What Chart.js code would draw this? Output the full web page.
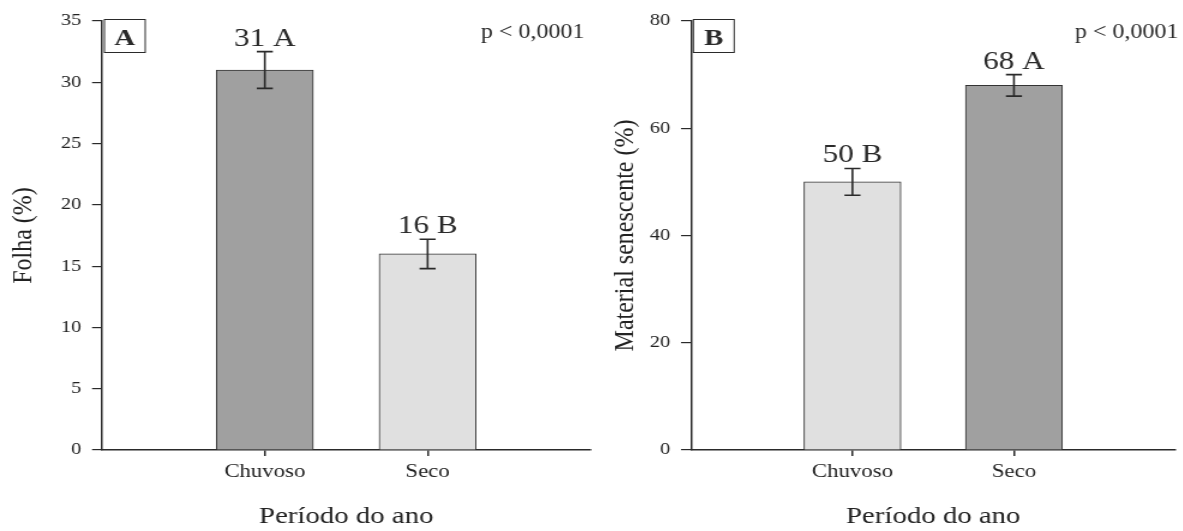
<!DOCTYPE html>
<html>
<head>
<meta charset="utf-8">
<script src="https://cdn.jsdelivr.net/npm/chart.js@4/dist/chart.umd.min.js"></script>
<style>
  body { margin: 0; background: #fff; overflow: hidden; }
  #wrap { position: relative; width: 1183px; height: 531px; }
  canvas { position: absolute; top: 0; transform: scaleX(1.2); transform-origin: 0 0; }
</style>
</head>
<body>
<div id="wrap">
  <canvas id="chart-a" width="493" height="531" style="left:0px"></canvas>
  <canvas id="chart-b" width="493" height="531" style="left:591px"></canvas>
</div>
<script>
// categories
const periods = ['Chuvoso', 'Seco']

// panel A - folha
const folha = [31, 16]
const folhaErr = [1.5, 1.2]
const folhaLetters = ['A', 'B']
const folhaColors = ['#a0a0a0', '#e0e0e0']

// panel B - material senescente
const senescente = [50, 68]
const senescenteErr = [2.5, 2.0]
const senescenteLetters = ['B', 'A']
const senescenteColors = ['#e0e0e0', '#a0a0a0']

const serif = "'Liberation Serif', 'Times New Roman', serif"
const ink = '#2a2a2a'

// error bars, value labels, panel letter and p value
const extrasPlugin = {
	id: 'extras',
	afterDatasetsDraw(chart, args, opts) {
		const ctx = chart.ctx
		const y = chart.scales.y
		const area = chart.chartArea
		const meta = chart.getDatasetMeta(0)
		ctx.save()
		ctx.strokeStyle = ink
		ctx.fillStyle = ink
		periods.forEach((p, i) => {
			const bar = meta.data[i + 1]
			const v = opts.values[i]
			const e = opts.errors[i]
			const top = y.getPixelForValue(v + e)
			const bottom = y.getPixelForValue(v - e)
			ctx.lineWidth = 1.6
			ctx.beginPath()
			ctx.moveTo(bar.x, top)
			ctx.lineTo(bar.x, bottom)
			ctx.moveTo(bar.x - 6.7, top)
			ctx.lineTo(bar.x + 6.7, top)
			ctx.moveTo(bar.x - 6.7, bottom)
			ctx.lineTo(bar.x + 6.7, bottom)
			ctx.stroke()
			ctx.font = '26px ' + serif
			ctx.textAlign = 'center'
			ctx.textBaseline = 'alphabetic'
			ctx.fillText(v + ' ' + opts.letters[i], bar.x, top - 6)
		})
		// panel letter in a box
		ctx.lineWidth = 1
		ctx.strokeRect(area.left + 2, area.top - 1.5, 34, 33)
		ctx.font = 'bold 24px ' + serif
		ctx.textAlign = 'center'
		ctx.fillText(opts.panel, area.left + 19, area.top + 24)
		// p value
		ctx.font = '20px ' + serif
		ctx.textAlign = 'right'
		ctx.fillText('p < 0,0001', area.right + opts.pShift, 38)
		ctx.restore()
	}
}

const makeChart = (id, values, errors, letters, colors, yMax, yStep, yTitle, panel, dims) => {
	const config = {
		type: 'bar',
		data: {
			labels: ['', ...periods, ''],
			datasets: [{
				data: [null, ...values, null],
				backgroundColor: ['#fff', ...colors, '#fff'],
				borderColor: '#333333',
				borderWidth: 1,
				borderSkipped: 'bottom',
				barThickness: 80.8
			}]
		},
		options: {
			responsive: false,
			animation: false,
			layout: { padding: { top: 21, right: dims.right, left: 0, bottom: 0 } },
			plugins: {
				legend: { display: false },
				tooltip: { enabled: false },
				extras: { values, errors, letters, panel, pShift: dims.pShift }
			},
			scales: {
				x: {
					offset: false,
					afterBuildTicks: (s) => { s.ticks = periods.map((p, i) => ({ value: i + 1 })) },
					afterFit: (s) => { s.height = 81 },
					grid: { offset: false, drawOnChartArea: false, tickLength: 6, color: ink, lineWidth: 1.5 },
					border: { display: true, color: ink, width: 1.5 },
					ticks: {
						color: '#222',
						font: { family: serif, size: 19 },
						padding: 5,
						maxRotation: 0,
						autoSkip: false
					},
					title: {
						display: true,
						text: 'Período do ano',
						color: '#222',
						font: { family: serif, size: 24 },
						padding: { top: 0, bottom: 0 }
					}
				},
				y: {
					min: 0,
					max: yMax,
					afterFit: (s) => { s.width = dims.axisX },
					grid: { drawOnChartArea: false, tickLength: 8.3, color: ink, lineWidth: 1.2 },
					border: { display: true, color: ink, width: 1.5 },
					ticks: {
						stepSize: yStep,
						color: '#222',
						font: { family: serif, size: 17 },
						padding: 9
					},
					title: {
						display: true,
						text: yTitle,
						color: '#222',
						font: { family: serif, size: 24 },
						padding: { top: dims.titlePad, bottom: 0 }
					}
				}
			}
		},
		plugins: [extrasPlugin]
	}
	const ctx = document.querySelector(id).getContext('2d')
	return new Chart(ctx, config)
}

makeChart('#chart-a', folha, folhaErr, folhaLetters, folhaColors, 35, 5, 'Folha (%)', 'A',
	{ axisX: 85, right: 1, titlePad: 5.6, pShift: -5 })
makeChart('#chart-b', senescente, senescenteErr, senescenteLetters, senescenteColors, 80, 20, 'Material senescente (%)', 'B',
	{ axisX: 83.3, right: 6, titlePad: 14, pShift: 2.5 })
</script>
</body>
</html>
